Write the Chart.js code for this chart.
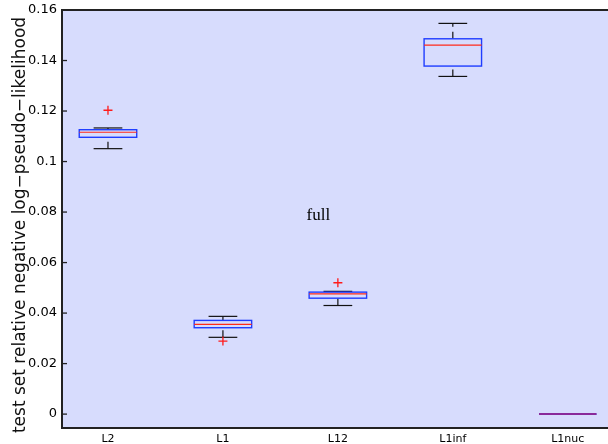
<!DOCTYPE html>
<html>
<head>
<meta charset="utf-8">
<script src="https://cdn.jsdelivr.net/npm/chart.js@4/dist/chart.umd.min.js"></script>
<style>
  html, body { margin: 0; padding: 0; background: #ffffff; }
  #wrap { width: 608px; height: 444px; }
</style>
</head>
<body>
<div id="wrap"><canvas id="c" width="608" height="444"></canvas></div>
<script>
// ---- data ----
const categories = ["L2", "L1", "L12", "L1inf", "L1nuc"];
const lowerWhisker = [0.1051, 0.0304, 0.0430, 0.1337, 0.0];
const q1Values     = [0.1096, 0.0342, 0.0459, 0.1378, 0.0];
const medians      = [0.1116, 0.0355, 0.0476, 0.1461, 0.0];
const q3Values     = [0.1126, 0.0371, 0.0483, 0.1486, 0.0];
const upperWhisker = [0.1133, 0.0387, 0.0486, 0.1547, 0.0];
const outlierCat   = [1, 2, 3];
const outlierVals  = [0.1203, 0.0289, 0.0520];
const yTickValues  = [0, 0.02, 0.04, 0.06, 0.08, 0.1, 0.12, 0.14, 0.16];
const yTickLabels  = ["0", "0.02", "0.04", "0.06", "0.08", "0.1", "0.12", "0.14", "0.16"];
const yTitle = "test set relative negative log\u2212pseudo\u2212likelihood";
const annotationText = "full";
const annotationPos = { x: 2.83, y: 0.0785 };

const BOX_HALF = 0.25, CAP_HALF = 0.125;

const boxPlugin = {
  id: 'boxPlugin',
  beforeDatasetsDraw(chart) {
    const ctx = chart.ctx, a = chart.chartArea;
    const xs = chart.scales.x, ys = chart.scales.y;
    ctx.save();
    ctx.fillStyle = '#d7dcfd';
    ctx.fillRect(a.left, a.top, a.right - a.left, a.bottom - a.top);
    // boxes
    categories.forEach((c, i) => {
      const cx = xs.getPixelForValue(i + 1);
      const xl = xs.getPixelForValue(i + 1 - BOX_HALF);
      const xr = xs.getPixelForValue(i + 1 + BOX_HALF);
      const cl = xs.getPixelForValue(i + 1 - CAP_HALF);
      const cr = xs.getPixelForValue(i + 1 + CAP_HALF);
      const yLo = ys.getPixelForValue(lowerWhisker[i]);
      const yQ1 = ys.getPixelForValue(q1Values[i]);
      const yMed = ys.getPixelForValue(medians[i]);
      const yQ3 = ys.getPixelForValue(q3Values[i]);
      const yHi = ys.getPixelForValue(upperWhisker[i]);
      // whiskers (dashed)
      ctx.strokeStyle = '#111';
      ctx.lineWidth = 1.2;
      ctx.setLineDash([7, 5]);
      ctx.beginPath(); ctx.moveTo(cx, yQ3); ctx.lineTo(cx, yHi); ctx.stroke();
      ctx.beginPath(); ctx.moveTo(cx, yLo); ctx.lineTo(cx, yQ1); ctx.stroke();
      ctx.setLineDash([]);
      // caps
      if (yHi !== yLo) {
        ctx.beginPath(); ctx.moveTo(cl, yHi); ctx.lineTo(cr, yHi); ctx.stroke();
        ctx.beginPath(); ctx.moveTo(cl, yLo); ctx.lineTo(cr, yLo); ctx.stroke();
      }
      // box
      ctx.strokeStyle = '#1f3dff';
      ctx.lineWidth = 1.4;
      ctx.strokeRect(xl, yQ3, xr - xl, yQ1 - yQ3);
      // median
      ctx.strokeStyle = (yQ1 === yQ3) ? '#8a2a9a' : '#ff2a1a';
      ctx.lineWidth = (yQ1 === yQ3) ? 2 : 1.2;
      ctx.beginPath(); ctx.moveTo(xl, yMed); ctx.lineTo(xr, yMed); ctx.stroke();
    });
    ctx.restore();
  },
  afterDraw(chart) {
    const ctx = chart.ctx, a = chart.chartArea;
    const xs = chart.scales.x, ys = chart.scales.y;
    ctx.save();
    // frame
    ctx.strokeStyle = '#222';
    ctx.lineWidth = 2;
    ctx.beginPath();
    ctx.moveTo(a.right, a.top); ctx.lineTo(a.left, a.top);
    ctx.lineTo(a.left, a.bottom); ctx.lineTo(a.right, a.bottom);
    ctx.stroke();
    // inside ticks
    ctx.lineWidth = 1.3;
    ctx.strokeStyle = '#222';
    yTickValues.forEach(v => {
      const y = ys.getPixelForValue(v);
      ctx.beginPath(); ctx.moveTo(a.left, y); ctx.lineTo(a.left + 5, y); ctx.stroke();
    });
    // annotation
    ctx.fillStyle = '#000';
    ctx.font = '17px "Liberation Serif", serif';
    ctx.textAlign = 'center';
    ctx.textBaseline = 'middle';
    ctx.fillText(annotationText, xs.getPixelForValue(annotationPos.x), ys.getPixelForValue(annotationPos.y));
    // y-axis title
    ctx.translate(21, 225);
    ctx.rotate(-Math.PI / 2);
    ctx.font = '17px "DejaVu Sans", sans-serif';
    ctx.fillStyle = '#111';
    ctx.fillText(yTitle, 0, 0);
    ctx.restore();
  }
};

new Chart(document.getElementById('c'), {
  type: 'scatter',
  data: {
    datasets: [{
      data: outlierCat.map((c, i) => ({ x: c, y: outlierVals[i] })),
      pointStyle: 'cross',
      pointRadius: 4.5,
      pointBorderWidth: 1.3,
      borderColor: '#ff1a1a',
      backgroundColor: '#ff1a1a',
      pointHoverRadius: 4.5
    }]
  },
  options: {
    responsive: false,
    animation: false,
    events: [],
    layout: { autoPadding: false, padding: { top: 10, right: 0, left: 0, bottom: 0 } },
    plugins: { legend: { display: false }, tooltip: { enabled: false } },
    scales: {
      x: {
        type: 'linear',
        min: 0.6, max: 5.35,
        grid: { display: false, drawTicks: false },
        border: { display: false },
        afterBuildTicks: s => { s.ticks = categories.map((c, i) => ({ value: i + 1 })); },
        afterFit: s => { s.height = 16; s.paddingLeft = 0; s.paddingRight = 0; },
        ticks: {
          padding: 5,
          color: '#000',
          font: { family: '"DejaVu Sans", sans-serif', size: 11 },
          maxRotation: 0,
          autoSkip: false,
          callback: (v) => categories[Math.round(v) - 1]
        }
      },
      y: {
        min: -0.0055, max: 0.16,
        grid: { display: false, drawTicks: false },
        border: { display: false },
        afterBuildTicks: s => { s.ticks = yTickValues.map(v => ({ value: v })); },
        afterFit: s => { s.width = 62; s.paddingTop = 0; s.paddingBottom = 0; },
        ticks: {
          padding: 5,
          color: '#000',
          font: { family: '"DejaVu Sans", sans-serif', size: 13 },
          autoSkip: false,
          callback: (v) => yTickLabels[yTickValues.findIndex(t => Math.abs(t - v) < 1e-9)]
        }
      }
    }
  },
  plugins: [boxPlugin]
});
</script>
</body>
</html>
